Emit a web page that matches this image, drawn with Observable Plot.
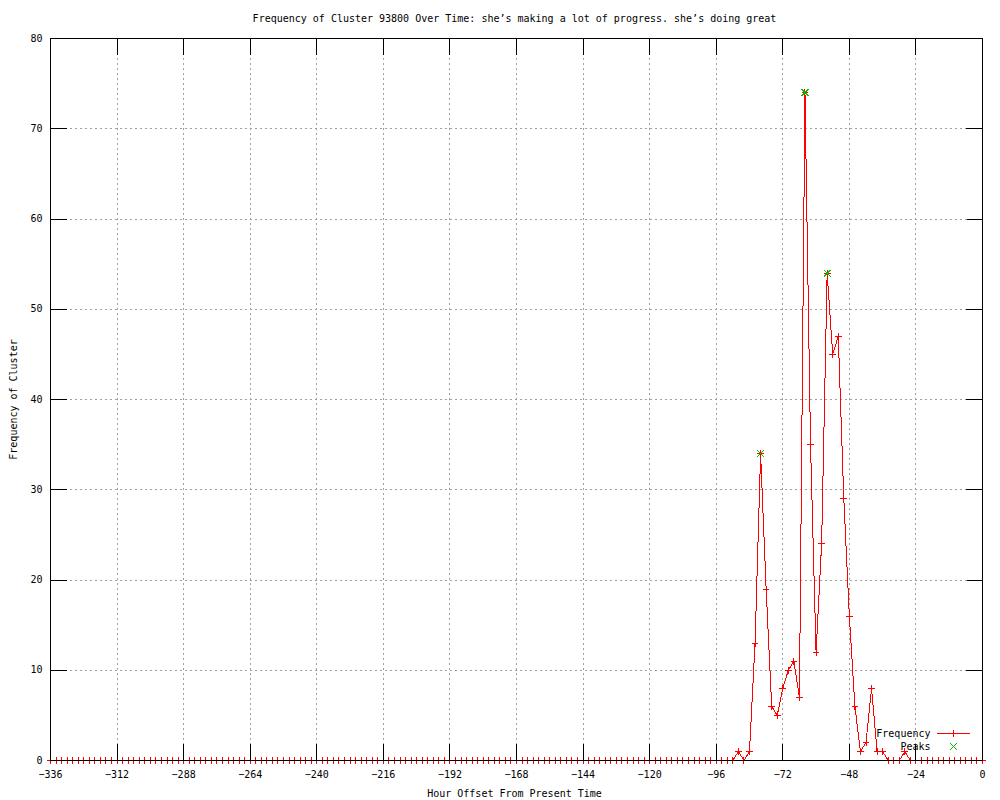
<!DOCTYPE html>
<html>
<head>
<meta charset="utf-8">
<script src="https://cdn.jsdelivr.net/npm/d3@7"></script>
<script src="https://cdn.jsdelivr.net/npm/@observablehq/plot@0.6"></script>
<style>
  html, body { margin: 0; padding: 0; background: #ffffff; }
</style>
</head>
<body>
<div id="chart"></div>
<script>
// ---- Data ----
const title = "Frequency of Cluster 93800 Over Time: she’s making a lot of progress. she’s doing great";
const xLabel = "Hour Offset From Present Time";
const yLabel = "Frequency of Cluster";
const legendLabels = ["Frequency", "Peaks"];

// sampling hours: every 2 hours from -336 to 0
const hours = d3.range(-336, 1, 2);

// frequency at each sampled hour (169 values)
const frequency = [
  0, 0, 0, 0, 0, 0, 0, 0, 0, 0, 0, 0, 0, 0, 0, 0, 0, 0, 0, 0, 0, 0, 0, 0,   // -336 .. -290
  0, 0, 0, 0, 0, 0, 0, 0, 0, 0, 0, 0, 0, 0, 0, 0, 0, 0, 0, 0, 0, 0, 0, 0,   // -288 .. -242
  0, 0, 0, 0, 0, 0, 0, 0, 0, 0, 0, 0, 0, 0, 0, 0, 0, 0, 0, 0, 0, 0, 0, 0,   // -240 .. -194
  0, 0, 0, 0, 0, 0, 0, 0, 0, 0, 0, 0, 0, 0, 0, 0, 0, 0, 0, 0, 0, 0, 0, 0,   // -192 .. -146
  0, 0, 0, 0, 0, 0, 0, 0, 0, 0, 0, 0, 0, 0, 0, 0, 0, 0, 0, 0, 0, 0, 0, 0,   // -144 .. -98
  0, 0, 0, 0,                                                               // -96 .. -90
  1, 0, 1, 13, 34, 19, 6, 5, 8, 10, 11, 7,                                  // -88 .. -66
  74, 35, 12, 24, 54, 45, 47, 29, 16, 6, 1, 2,                              // -64 .. -42
  8, 1, 1, 0, 0, 0, 1,                                                      // -40 .. -28
  0, 0, 0, 0, 0, 0, 0, 0, 0, 0, 0, 0, 0, 0                                  // -26 .. 0
];

const peakHours = [-80, -64, -56];
const peakValues = [34, 74, 54];

const xTicks = [-336, -312, -288, -264, -240, -216, -192, -168, -144, -120, -96, -72, -48, -24, 0];
const yTicks = [0, 10, 20, 30, 40, 50, 60, 70, 80];

// ---- Tables built from the arrays ----
const series = hours.map((h, i) => ({hour: h, freq: frequency[i]}));
const peaks = peakHours.map((h, i) => ({hour: h, freq: peakValues[i]}));

const FONT = "DejaVu Sans Mono";
const RED = "#ff0000";
const GREEN = "#00c000";
const GRID = "#a0a0a0";

// straight line shape for tick marks / legend sample
const lineShape = {draw(context, l) { context.moveTo(0, 0); context.lineTo(0, -l); }};
const TICK = 16;

const chart = Plot.plot({
  width: 1000,
  height: 800,
  marginLeft: 50,
  marginRight: 18,
  marginTop: 38,
  marginBottom: 40,
  style: {fontFamily: FONT, fontSize: "10px", background: "#ffffff", color: "#000000", shapeRendering: "crispEdges"},
  x: {domain: [-336, 0]},
  y: {domain: [0, 80]},
  marks: [
    // dotted grid
    Plot.ruleX(xTicks.slice(1, -1), {stroke: GRID, strokeDasharray: "2,3", strokeWidth: 1}),
    Plot.ruleY(yTicks.slice(1, -1), {stroke: GRID, strokeDasharray: "2,3", strokeWidth: 1}),

    // frequency series
    Plot.line(series, {x: "hour", y: "freq", stroke: RED, strokeWidth: 1}),
    Plot.dot(series, {x: "hour", y: "freq", symbol: "plus", r: 2.3, stroke: RED, strokeWidth: 1}),

    // peaks
    Plot.dot(peaks, {x: "hour", y: "freq", symbol: "times", r: 3.2, stroke: GREEN, strokeWidth: 1}),

    // border
    Plot.frame({stroke: "#000000", strokeWidth: 1}),

    // inward tick marks on all four sides
    Plot.vector(xTicks, {x: d => d, frameAnchor: "bottom", rotate: 0, length: TICK, anchor: "start", shape: lineShape, stroke: "#000000", strokeWidth: 1}),
    Plot.vector(xTicks, {x: d => d, frameAnchor: "top", rotate: 180, length: TICK, anchor: "start", shape: lineShape, stroke: "#000000", strokeWidth: 1}),
    Plot.vector(yTicks, {y: d => d, frameAnchor: "left", rotate: 90, length: TICK, anchor: "start", shape: lineShape, stroke: "#000000", strokeWidth: 1}),
    Plot.vector(yTicks, {y: d => d, frameAnchor: "right", rotate: -90, length: TICK, anchor: "start", shape: lineShape, stroke: "#000000", strokeWidth: 1}),

    // tick labels
    Plot.axisX(xTicks, {anchor: "bottom", tickSize: 0, tickPadding: 10.5, label: null, fontSize: 10, fontFamily: FONT, fill: "#000000"}),
    Plot.axisY(yTicks, {anchor: "left", tickSize: 0, tickPadding: 8, label: null, fontSize: 10, fontFamily: FONT, fill: "#000000"}),

    // title and axis titles
    Plot.text([title], {frameAnchor: "top", dy: -20, dx: -2, textAnchor: "middle", lineAnchor: "middle", fontSize: 10, fontFamily: FONT, fill: "#000000"}),
    Plot.text([xLabel], {frameAnchor: "bottom", dy: 33, dx: -2, textAnchor: "middle", lineAnchor: "middle", fontSize: 10, fontFamily: FONT, fill: "#000000"}),
    Plot.text([yLabel], {frameAnchor: "left", dx: -37, rotate: -90, textAnchor: "middle", lineAnchor: "middle", fontSize: 10, fontFamily: FONT, fill: "#000000"}),

    // key (bottom right inside the frame)
    Plot.text([legendLabels[0]], {frameAnchor: "bottom-right", dx: -52, dy: -27, textAnchor: "end", lineAnchor: "middle", fontSize: 10, fontFamily: FONT, fill: "#000000"}),
    Plot.text([legendLabels[1]], {frameAnchor: "bottom-right", dx: -52, dy: -14, textAnchor: "end", lineAnchor: "middle", fontSize: 10, fontFamily: FONT, fill: "#000000"}),
    Plot.vector([legendLabels[0]], {frameAnchor: "bottom-right", dx: -29, dy: -27, rotate: 90, length: 32, anchor: "middle", shape: lineShape, stroke: RED, strokeWidth: 1}),
    Plot.dot([legendLabels[0]], {frameAnchor: "bottom-right", dx: -29, dy: -27, symbol: "plus", r: 2.3, stroke: RED, strokeWidth: 1}),
    Plot.dot([legendLabels[1]], {frameAnchor: "bottom-right", dx: -29, dy: -14, symbol: "times", r: 3.2, stroke: GREEN, strokeWidth: 1})
  ]
});

document.getElementById("chart").appendChild(chart);
</script>
</body>
</html>
